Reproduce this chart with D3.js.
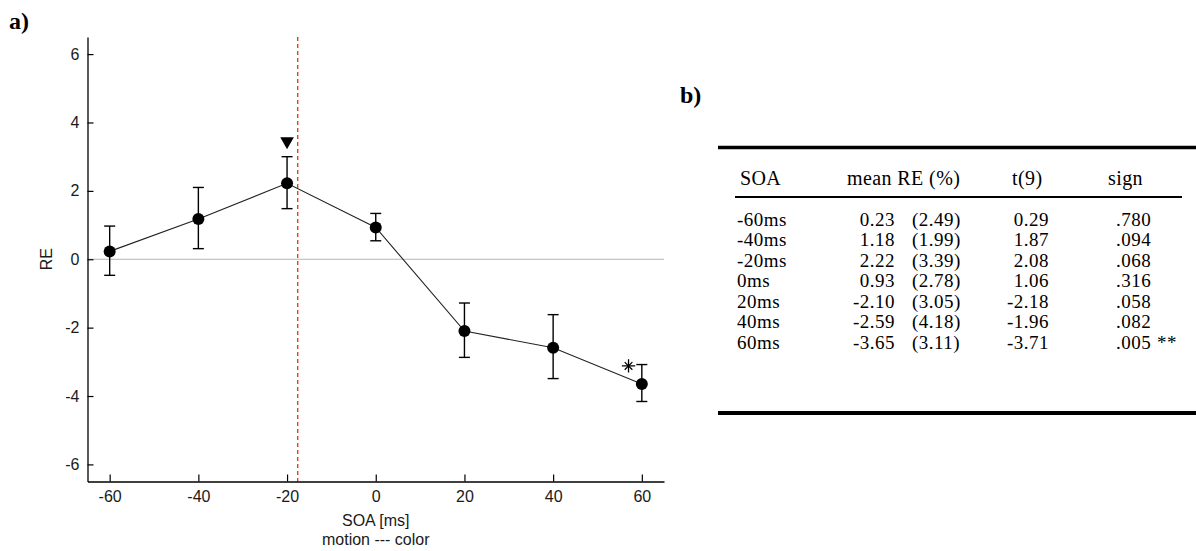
<!DOCTYPE html>
<html>
<head>
<meta charset="utf-8">
<script src="https://cdn.jsdelivr.net/npm/d3@7"></script>
<style>
  body { margin: 0; background: #fff; }
  svg { display: block; }
</style>
</head>
<body>
<div id="chart"></div>
<script>
const soa = [-60, -40, -20, 0, 20, 40, 60];
const meanRE = [0.23, 1.18, 2.22, 0.93, -2.10, -2.59, -3.65];
const errUpper = [0.97, 2.10, 3.00, 1.34, -1.28, -1.62, -3.08];
const errLower = [-0.47, 0.31, 1.48, 0.54, -2.87, -3.49, -4.16];
const xTicks = [-60, -40, -20, 0, 20, 40, 60];
const yTicks = [-6, -4, -2, 0, 2, 4, 6];
const refLineX = -17.6;
const triangleMark = [-20, 3.45];
const starMark = [57, -3.12];

// table b)
const tableHeaders = ["SOA", "mean RE (%)", "t(9)", "sign"];
const rowLabels = ["-60ms", "-40ms", "-20ms", "0ms", "20ms", "40ms", "60ms"];
const meanText = ["0.23", "1.18", "2.22", "0.93", "-2.10", "-2.59", "-3.65"];
const sdText = ["(2.49)", "(1.99)", "(3.39)", "(2.78)", "(3.05)", "(4.18)", "(3.11)"];
const tText = ["0.29", "1.87", "2.08", "1.06", "-2.18", "-1.96", "-3.71"];
const pText = [".780", ".094", ".068", ".316", ".058", ".082", ".005"];
const sigText = ["", "", "", "", "", "", "**"];

const width = 1196, height = 551;
const svg = d3.select("#chart").append("svg")
    .attr("width", width)
    .attr("height", height);

const sans = "'Liberation Sans', Arial, sans-serif";
const serif = "'Liberation Serif', 'Times New Roman', serif";

// ---- panel a) ----
const x = d3.scaleLinear().domain([-65, 65]).range([87.5, 664]);
const y = d3.scaleLinear().domain([-6.5, 6.5]).range([481.5, 37]);

svg.append("text")
    .attr("x", 9).attr("y", 29)
    .style("font-family", serif).style("font-weight", "bold").style("font-size", "24px")
    .text("a)");

// zero line
svg.append("line")
    .attr("x1", x(-65)).attr("x2", x(65))
    .attr("y1", y(0)).attr("y2", y(0))
    .attr("stroke", "#b4b4b4").attr("stroke-width", 1);

// red dashed reference line
svg.append("line")
    .attr("x1", x(refLineX)).attr("x2", x(refLineX))
    .attr("y1", y(6.5)).attr("y2", y(-6.5))
    .attr("stroke", "#f03a18").attr("stroke-width", 1.4)
    .attr("stroke-dasharray", "4,3");

// axes
const xAxis = svg.append("g")
    .attr("transform", `translate(0,${y(-6.5)})`)
    .call(d3.axisBottom(x).tickValues(xTicks).tickFormat(d => String(d))
      .tickSizeInner(-7).tickSizeOuter(0).tickPadding(9));
const yAxis = svg.append("g")
    .attr("transform", `translate(${x(-65)},0)`)
    .call(d3.axisLeft(y).tickValues(yTicks).tickFormat(d => String(d))
      .tickSizeInner(-6).tickSizeOuter(0).tickPadding(8));

[xAxis, yAxis].forEach(g => {
  g.select(".domain").attr("stroke", "#000").attr("stroke-width", 1.3);
  g.selectAll(".tick line").attr("stroke", "#000").attr("stroke-width", 1.2);
  g.selectAll(".tick text")
    .style("font-family", sans).style("font-size", "16px").attr("fill", "#1a1a1a");
});

svg.append("text")
    .attr("transform", `translate(46,${y(0)}) rotate(-90)`)
    .attr("text-anchor", "middle").attr("dy", "0.35em")
    .style("font-family", sans).style("font-size", "16px").attr("fill", "#1a1a1a")
    .text("RE");

svg.append("text")
    .attr("x", x(0)).attr("y", 526)
    .attr("text-anchor", "middle")
    .style("font-family", sans).style("font-size", "16px").attr("fill", "#1a1a1a")
    .text("SOA [ms]");
svg.append("text")
    .attr("x", x(0)).attr("y", 545)
    .attr("text-anchor", "middle")
    .style("font-family", sans).style("font-size", "16px").attr("fill", "#1a1a1a")
    .text("motion --- color");

const pts = soa.map((s, i) => ({ s, m: meanRE[i], hi: errUpper[i], lo: errLower[i] }));

// connecting line
svg.append("path")
    .datum(pts)
    .attr("fill", "none").attr("stroke", "#222").attr("stroke-width", 1.1)
    .attr("d", d3.line().x(d => x(d.s)).y(d => y(d.m)));

// error bars
const eb = svg.append("g").attr("stroke", "#000").attr("stroke-width", 1.4);
eb.selectAll(".v").data(pts).join("line")
    .attr("x1", d => x(d.s)).attr("x2", d => x(d.s))
    .attr("y1", d => y(d.hi)).attr("y2", d => y(d.lo));
eb.selectAll(".ct").data(pts).join("line")
    .attr("x1", d => x(d.s) - 5.5).attr("x2", d => x(d.s) + 5.5)
    .attr("y1", d => y(d.hi)).attr("y2", d => y(d.hi));
eb.selectAll(".cb").data(pts).join("line")
    .attr("x1", d => x(d.s) - 5.5).attr("x2", d => x(d.s) + 5.5)
    .attr("y1", d => y(d.lo)).attr("y2", d => y(d.lo));

// markers
svg.selectAll(".pt").data(pts).join("circle")
    .attr("cx", d => x(d.s)).attr("cy", d => y(d.m))
    .attr("r", 6).attr("fill", "#000");

// annotation markers
svg.append("path")
    .attr("d", d3.symbol().type(d3.symbolTriangle).size(80)())
    .attr("transform", `translate(${x(triangleMark[0])},${y(triangleMark[1])}) rotate(180)`)
    .attr("fill", "#000");
const star = svg.append("g")
    .attr("transform", `translate(${x(starMark[0])},${y(starMark[1])})`)
    .attr("stroke", "#000").attr("stroke-width", 1.3).attr("fill", "none");
star.append("path").attr("d", d3.symbol().type(d3.symbolPlus).size(60)());
star.append("path").attr("d", d3.symbol().type(d3.symbolTimes).size(40)());

// ---- panel b) table ----
svg.append("text")
    .attr("x", 680).attr("y", 103)
    .style("font-family", serif).style("font-weight", "bold").style("font-size", "24px")
    .text("b)");

svg.append("line").attr("x1", 718).attr("x2", 1196).attr("y1", 147.5).attr("y2", 147.5)
    .attr("stroke", "#000").attr("stroke-width", 3.5);
svg.append("line").attr("x1", 735).attr("x2", 1182).attr("y1", 197).attr("y2", 197)
    .attr("stroke", "#000").attr("stroke-width", 2);
svg.append("line").attr("x1", 718).attr("x2", 1196).attr("y1", 413).attr("y2", 413)
    .attr("stroke", "#000").attr("stroke-width", 4);

const headerX = [740, 847, 1012, 1108];
svg.selectAll(".hdr").data(tableHeaders).join("text")
    .attr("x", (d, i) => headerX[i]).attr("y", 185)
    .style("font-family", serif).style("font-size", "20px").style("letter-spacing", "0.4px")
    .text(d => d);

const rowY = d3.scaleLinear().domain([0, 6]).range([225.5, 348.5]);
const rows = svg.append("g").style("font-family", serif).style("font-size", "19px")
    .style("letter-spacing", "0.5px");
rowLabels.forEach((lab, i) => {
  const yy = rowY(i);
  rows.append("text").attr("x", 737).attr("y", yy).text(lab);
  rows.append("text").attr("x", 895).attr("y", yy).attr("text-anchor", "end").text(meanText[i]);
  rows.append("text").attr("x", 912).attr("y", yy).text(sdText[i]);
  rows.append("text").attr("x", 1049).attr("y", yy).attr("text-anchor", "end").text(tText[i]);
  rows.append("text").attr("x", 1116).attr("y", yy).text(pText[i]);
  if (sigText[i]) rows.append("text").attr("x", 1157).attr("y", yy).text(sigText[i]);
});
</script>
</body>
</html>
